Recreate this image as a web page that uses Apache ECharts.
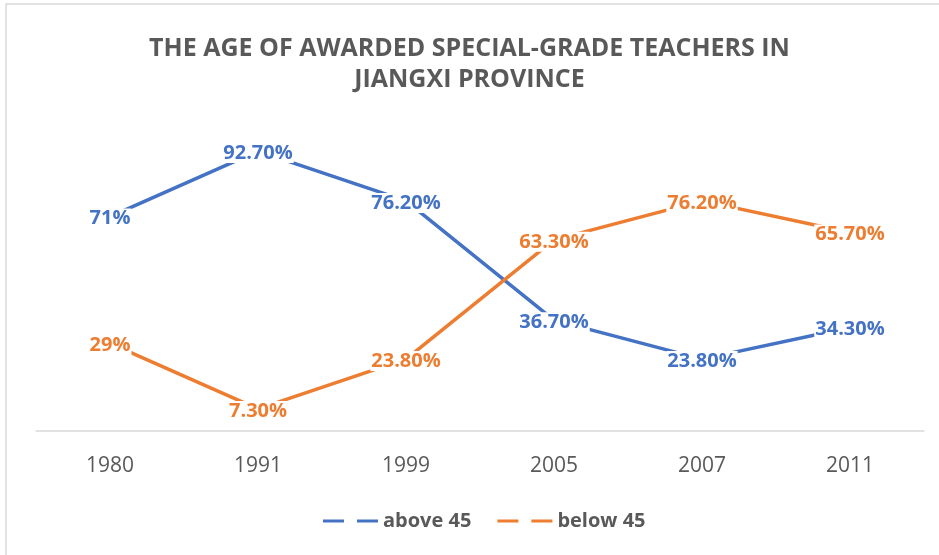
<!DOCTYPE html>
<html>
<head>
<meta charset="utf-8">
<script src="https://cdn.jsdelivr.net/npm/echarts@6/dist/echarts.min.js"></script>
<style>
  html, body { margin: 0; padding: 0; background: #fff; }
  #chart { width: 939px; height: 555px; }
</style>
</head>
<body>
<div id="chart"></div>
<script>
  const years = ['1980', '1991', '1999', '2005', '2007', '2011']
  const above45 = [71, 92.7, 76.2, 36.7, 23.8, 34.3]
  const below45 = [29, 7.3, 23.8, 63.3, 76.2, 65.7]
  const aboveLabels = ['71%', '92.70%', '76.20%', '36.70%', '23.80%', '34.30%']
  const belowLabels = ['29%', '7.30%', '23.80%', '63.30%', '76.20%', '65.70%']

  const fontFamily = '"Open Sans", "Noto Sans", sans-serif'
  const dashIcon = 'path://M0,0 H21 V3 H0 Z M34,0 H55 V3 H34 Z'

  function makeSeries (name, data, labels, color) {
    return {
      name: name,
      type: 'line',
      data: data,
      symbol: 'circle',
      symbolSize: 0,
      lineStyle: { color: color, width: 3.5 },
      itemStyle: { color: color },
      label: {
        show: true,
        position: 'inside',
        offset: [0, 2],
        formatter: (p) => labels[p.dataIndex],
        color: color,
        fontFamily: fontFamily,
        fontWeight: 'bold',
        fontSize: 20,
        backgroundColor: '#fff',
        padding: [0, 1]
      },
      animation: false
    }
  }

  const chart = echarts.init(document.getElementById('chart'))
  chart.setOption({
    graphic: [{
      type: 'rect',
      shape: { x: 6, y: 4, width: 1000, height: 1000 },
      style: { fill: 'none', stroke: '#d9d9d9', lineWidth: 1.5 },
      silent: true
    }],
    title: {
      text: 'THE AGE OF AWARDED SPECIAL-GRADE TEACHERS IN\nJIANGXI PROVINCE',
      left: 'center',
      top: 28,
      textStyle: {
        color: '#595959',
        fontFamily: fontFamily,
        fontWeight: 'bold',
        fontSize: 25,
        lineHeight: 31
      }
    },
    legend: {
      bottom: 19,
      left: 318,
      itemWidth: 55,
      itemHeight: 3,
      itemGap: 26,
      icon: dashIcon,
      textStyle: {
        color: '#595959',
        fontFamily: fontFamily,
        fontWeight: 'bold',
        fontSize: 20
      },
      data: [
        { name: 'above 45', icon: dashIcon },
        { name: 'below 45', icon: dashIcon }
      ]
    },
    grid: {
      left: 36,
      right: 15,
      top: 129,
      bottom: 124
    },
    xAxis: {
      type: 'category',
      data: years,
      boundaryGap: true,
      axisLine: { lineStyle: { color: '#d9d9d9', width: 1.5 } },
      axisTick: { show: false },
      axisLabel: {
        color: '#595959',
        fontFamily: fontFamily,
        fontSize: 21,
        margin: 25
      }
    },
    yAxis: {
      type: 'value',
      min: 0,
      max: 100,
      show: false,
      splitLine: { show: false }
    },
    series: [
      makeSeries('above 45', above45, aboveLabels, '#4472C4'),
      makeSeries('below 45', below45, belowLabels, '#ED7D31')
    ]
  })
</script>
</body>
</html>
